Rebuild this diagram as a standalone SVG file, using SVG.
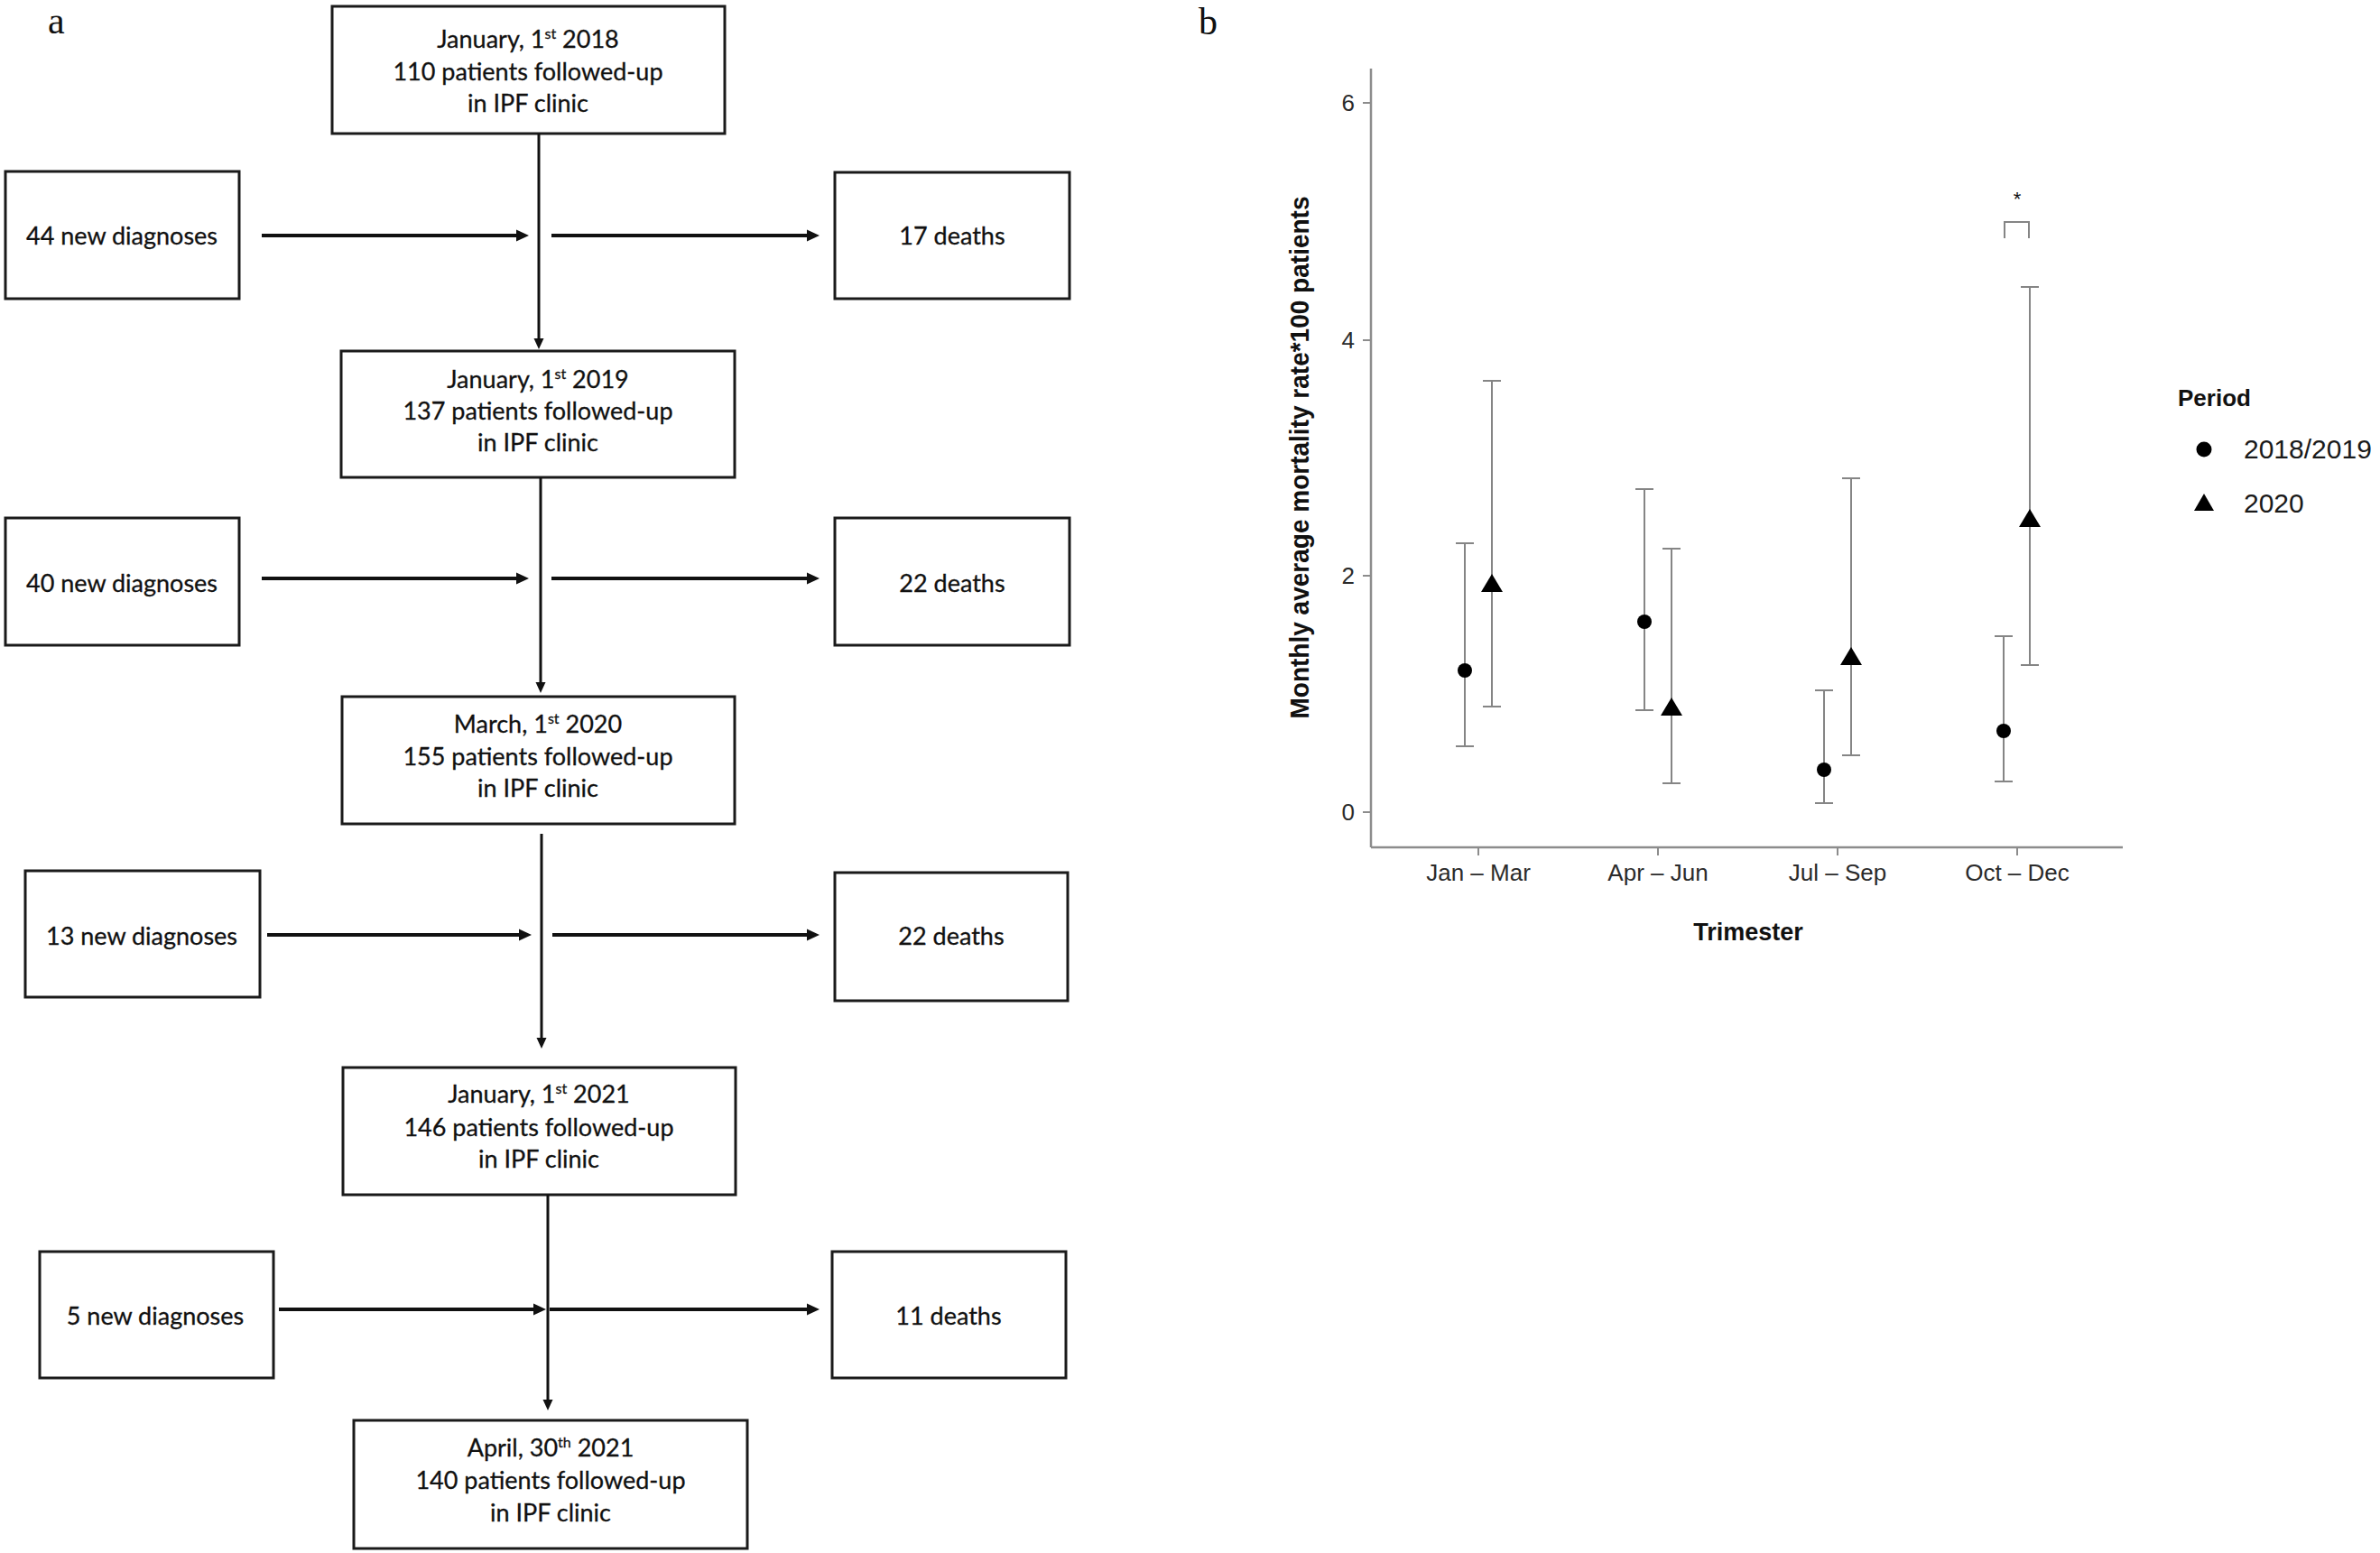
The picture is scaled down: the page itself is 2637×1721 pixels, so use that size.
<svg xmlns="http://www.w3.org/2000/svg" width="2637" height="1721" viewBox="0 0 2637 1721">
<style>
.box{fill:#fff;stroke:#1a1a1a;stroke-width:3}
.ft{font-family:Lato,"Open Sans","Liberation Sans",sans-serif;font-size:27px;fill:#111;stroke:#111;stroke-width:0.3;text-anchor:middle}
.sup{font-size:16px}
.con{stroke:#111;fill:none}
.h{stroke-width:4}
.v{stroke-width:3}
.panel{font-family:"Liberation Serif","Times New Roman",serif;font-size:42px;fill:#111}
.ax{stroke:#8c8c8c;stroke-width:2.5;fill:none}
.tk{stroke:#8c8c8c;stroke-width:2;fill:none}
.eb{stroke:#858585;stroke-width:2;fill:none}
.tl{font-family:"Liberation Sans",Arial,sans-serif;font-size:26px;fill:#2b2b2b}
.lg{font-family:"Liberation Sans",Arial,sans-serif;font-size:30px;fill:#1a1a1a}
.star{font-family:"Liberation Sans",Arial,sans-serif;font-size:22px;fill:#111}
.tb{font-family:"Liberation Sans",Arial,sans-serif;font-weight:bold;fill:#111}
.pt{fill:#000}
</style>
<defs>
<marker id="ah" markerUnits="userSpaceOnUse" markerWidth="16" markerHeight="14" viewBox="0 -7 16 14" refX="0" refY="0" orient="auto">
<path d="M0,-6.5 L14,0 L0,6.5 Z" fill="#111"/>
</marker>
<marker id="av" markerUnits="userSpaceOnUse" markerWidth="14" markerHeight="12" viewBox="0 -6 14 12" refX="0" refY="0" orient="auto">
<path d="M0,-5.5 L12,0 L0,5.5 Z" fill="#111"/>
</marker>
</defs>
<rect width="2637" height="1721" fill="#fff"/>

<text class="panel" x="53" y="37">a</text>
<text class="panel" x="1328" y="38">b</text>

<!-- Flowchart nodes -->
<g id="n-2018">
<rect class="box" x="368" y="7" width="435" height="141"/>
<text class="ft" x="585" y="53">January, 1<tspan class="sup" dy="-10">st</tspan><tspan dy="10"> 2018</tspan></text>
<text class="ft" x="585" y="89">110 patients followed-up</text>
<text class="ft" x="585" y="124">in IPF clinic</text>
</g>
<g id="n-new1">
<rect class="box" x="6" y="190" width="259" height="141"/>
<text class="ft" x="135" y="271">44 new diagnoses</text>
</g>
<g id="n-death1">
<rect class="box" x="925" y="191" width="260" height="140"/>
<text class="ft" x="1055" y="271">17 deaths</text>
</g>
<g id="n-2019">
<rect class="box" x="378" y="389" width="436" height="140"/>
<text class="ft" x="596" y="430">January, 1<tspan class="sup" dy="-10">st</tspan><tspan dy="10"> 2019</tspan></text>
<text class="ft" x="596" y="465">137 patients followed-up</text>
<text class="ft" x="596" y="500">in IPF clinic</text>
</g>
<g id="n-new2">
<rect class="box" x="6" y="574" width="259" height="141"/>
<text class="ft" x="135" y="656">40 new diagnoses</text>
</g>
<g id="n-death2">
<rect class="box" x="925" y="574" width="260" height="141"/>
<text class="ft" x="1055" y="656">22 deaths</text>
</g>
<g id="n-2020">
<rect class="box" x="379" y="772" width="435" height="141"/>
<text class="ft" x="596" y="812">March, 1<tspan class="sup" dy="-10">st</tspan><tspan dy="10"> 2020</tspan></text>
<text class="ft" x="596" y="848">155 patients followed-up</text>
<text class="ft" x="596" y="883">in IPF clinic</text>
</g>
<g id="n-new3">
<rect class="box" x="28" y="965" width="260" height="140"/>
<text class="ft" x="157" y="1047">13 new diagnoses</text>
</g>
<g id="n-death3">
<rect class="box" x="925" y="967" width="258" height="142"/>
<text class="ft" x="1054" y="1047">22 deaths</text>
</g>
<g id="n-2021">
<rect class="box" x="380" y="1183" width="435" height="141"/>
<text class="ft" x="597" y="1222">January, 1<tspan class="sup" dy="-10">st</tspan><tspan dy="10"> 2021</tspan></text>
<text class="ft" x="597" y="1259">146 patients followed-up</text>
<text class="ft" x="597" y="1294">in IPF clinic</text>
</g>
<g id="n-new4">
<rect class="box" x="44" y="1387" width="259" height="140"/>
<text class="ft" x="172" y="1468">5 new diagnoses</text>
</g>
<g id="n-death4">
<rect class="box" x="922" y="1387" width="259" height="140"/>
<text class="ft" x="1051" y="1468">11 deaths</text>
</g>
<g id="n-apr2021">
<rect class="box" x="392" y="1574" width="436" height="142"/>
<text class="ft" x="610" y="1614">April, 30<tspan class="sup" dy="-10">th</tspan><tspan dy="10"> 2021</tspan></text>
<text class="ft" x="610" y="1650">140 patients followed-up</text>
<text class="ft" x="610" y="1686">in IPF clinic</text>
</g>

<!-- Connectors -->
<g id="connectors">
<line class="con v" x1="597" y1="148" x2="597" y2="375" marker-end="url(#av)"/>
<line class="con h" x1="290" y1="261" x2="572" y2="261" marker-end="url(#ah)"/>
<line class="con h" x1="611" y1="261" x2="894" y2="261" marker-end="url(#ah)"/>
<line class="con v" x1="599" y1="529" x2="599" y2="756" marker-end="url(#av)"/>
<line class="con h" x1="290" y1="641" x2="572" y2="641" marker-end="url(#ah)"/>
<line class="con h" x1="611" y1="641" x2="894" y2="641" marker-end="url(#ah)"/>
<line class="con v" x1="600" y1="924" x2="600" y2="1150" marker-end="url(#av)"/>
<line class="con h" x1="296" y1="1036" x2="575" y2="1036" marker-end="url(#ah)"/>
<line class="con h" x1="612" y1="1036" x2="894" y2="1036" marker-end="url(#ah)"/>
<line class="con v" x1="607" y1="1324" x2="607" y2="1551" marker-end="url(#av)"/>
<line class="con h" x1="309" y1="1451" x2="591" y2="1451" marker-end="url(#ah)"/>
<line class="con h" x1="609" y1="1451" x2="894" y2="1451" marker-end="url(#ah)"/>
</g>

<!-- Panel b chart -->
<g id="chart">
<line class="ax" x1="1519" y1="76" x2="1519" y2="939"/>
<line class="ax" x1="1519" y1="939" x2="2352" y2="939"/>
<g id="y-ticks">
<line class="tk" x1="1510" y1="114" x2="1519" y2="114"/>
<line class="tk" x1="1510" y1="377" x2="1519" y2="377"/>
<line class="tk" x1="1510" y1="638" x2="1519" y2="638"/>
<line class="tk" x1="1510" y1="900" x2="1519" y2="900"/>
<text class="tl" x="1501" y="123" text-anchor="end">6</text>
<text class="tl" x="1501" y="386" text-anchor="end">4</text>
<text class="tl" x="1501" y="647" text-anchor="end">2</text>
<text class="tl" x="1501" y="909" text-anchor="end">0</text>
</g>
<g id="x-ticks">
<line class="tk" x1="1638" y1="939" x2="1638" y2="948"/>
<line class="tk" x1="1837" y1="939" x2="1837" y2="948"/>
<line class="tk" x1="2036" y1="939" x2="2036" y2="948"/>
<line class="tk" x1="2235" y1="939" x2="2235" y2="948"/>
<text class="tl" x="1638" y="976" text-anchor="middle">Jan – Mar</text>
<text class="tl" x="1837" y="976" text-anchor="middle">Apr – Jun</text>
<text class="tl" x="2036" y="976" text-anchor="middle">Jul – Sep</text>
<text class="tl" x="2235" y="976" text-anchor="middle">Oct – Dec</text>
</g>
<text class="tb" x="1937" y="1042" font-size="27" text-anchor="middle">Trimester</text>
<text class="tb" x="0" y="0" font-size="29" text-anchor="middle" transform="translate(1450,507) rotate(-90)" textLength="579" lengthAdjust="spacingAndGlyphs">Monthly average mortality rate*100 patients</text>

<g id="errorbars">
<path class="eb" d="M1623,602V827M1613,602H1633M1613,827H1633"/>
<path class="eb" d="M1653,422V783M1643,422H1663M1643,783H1663"/>
<path class="eb" d="M1822,542V787M1812,542H1832M1812,787H1832"/>
<path class="eb" d="M1852,608V868M1842,608H1862M1842,868H1862"/>
<path class="eb" d="M2021,765V890M2011,765H2031M2011,890H2031"/>
<path class="eb" d="M2051,530V837M2041,530H2061M2041,837H2061"/>
<path class="eb" d="M2220,705V866M2210,705H2230M2210,866H2230"/>
<path class="eb" d="M2249,318V737M2239,318H2259M2239,737H2259"/>
</g>
<g id="points">
<circle class="pt" cx="1623" cy="743" r="8"/>
<circle class="pt" cx="1822" cy="689" r="8"/>
<circle class="pt" cx="2021" cy="853" r="8"/>
<circle class="pt" cx="2220" cy="810" r="8"/>
<path class="pt" d="M1653,636 L1665,656 L1641,656 Z"/>
<path class="pt" d="M1852,773 L1864,793 L1840,793 Z"/>
<path class="pt" d="M2051,717 L2063,737 L2039,737 Z"/>
<path class="pt" d="M2249,564 L2261,584 L2237,584 Z"/>
</g>
<g id="significance">
<path class="eb" d="M2221,264V246H2248V264"/>
<text class="star" x="2235" y="228" text-anchor="middle">*</text>
</g>
<g id="legend">
<text class="tb" x="2413" y="450" font-size="26">Period</text>
<circle class="pt" cx="2442" cy="498" r="8.5"/>
<text class="lg" x="2486" y="508">2018/2019</text>
<path class="pt" d="M2442,547 L2453,566 L2431,566 Z"/>
<text class="lg" x="2486" y="568">2020</text>
</g>
</g>
</svg>
